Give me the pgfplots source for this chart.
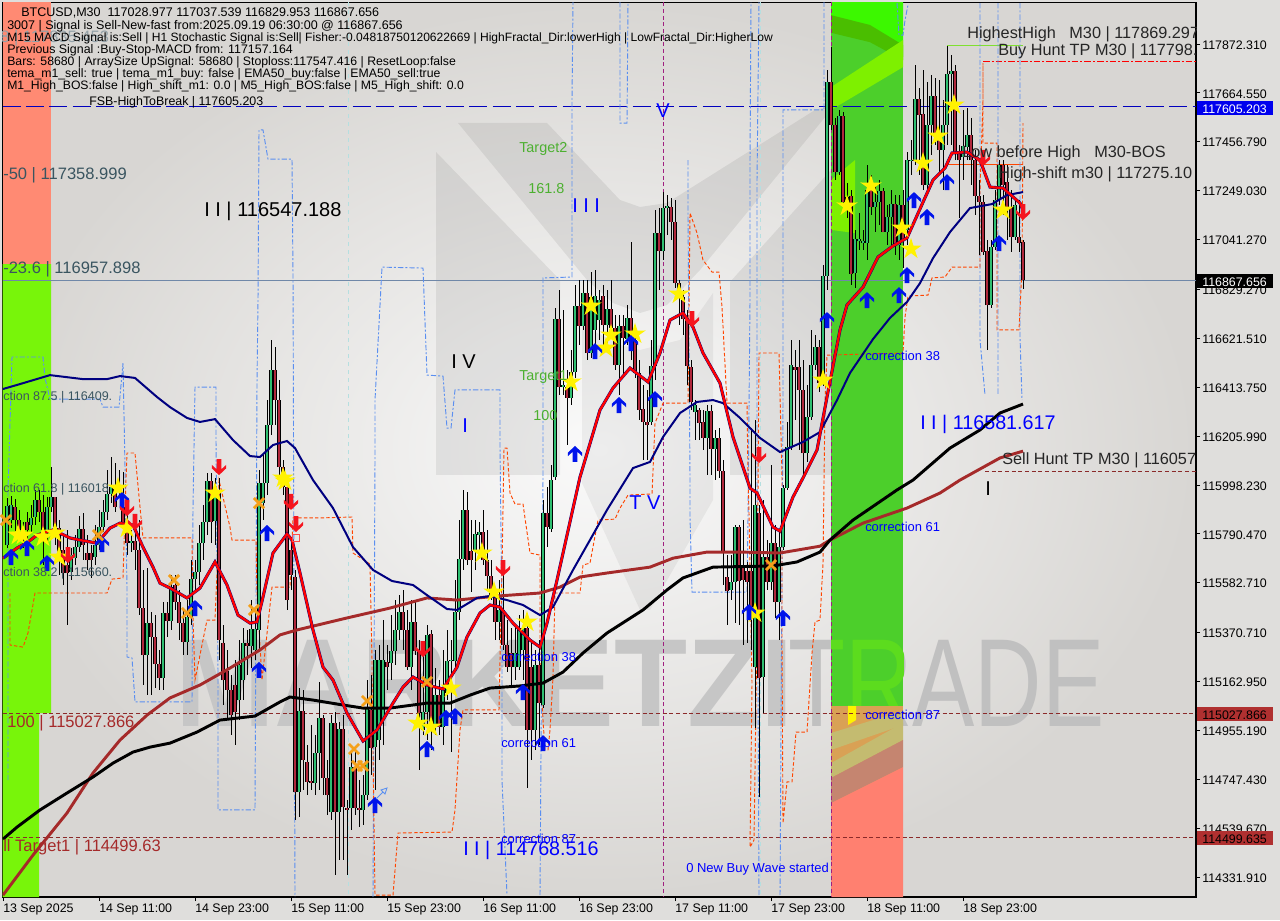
\documentclass[border=0pt]{standalone}
\usepackage{fontspec}
\setmainfont{Liberation Sans}
\usepackage{pgfplots}
\usepackage{pgfplotstable}
\pgfplotsset{compat=1.18}
\definecolor{bullc}{HTML}{2FBF71}
\definecolor{bearc}{HTML}{B0283C}
\definecolor{navyl}{HTML}{000080}
\definecolor{brownl}{HTML}{A52A2A}
\definecolor{orl}{HTML}{FF4500}
\definecolor{bll}{HTML}{5B8FF0}
\definecolor{fib}{HTML}{3A5560}
\definecolor{grn}{HTML}{4CB030}
\pgfdeclareplotmark{ystar}{%
 \pgfpathmoveto{\pgfpointpolar{90}{8.4pt}}%
 \pgfpathlineto{\pgfpointpolar{126}{3.1pt}}\pgfpathlineto{\pgfpointpolar{162}{8.4pt}}%
 \pgfpathlineto{\pgfpointpolar{198}{3.1pt}}\pgfpathlineto{\pgfpointpolar{234}{8.4pt}}%
 \pgfpathlineto{\pgfpointpolar{270}{3.1pt}}\pgfpathlineto{\pgfpointpolar{306}{8.4pt}}%
 \pgfpathlineto{\pgfpointpolar{342}{3.1pt}}\pgfpathlineto{\pgfpointpolar{18}{8.4pt}}%
 \pgfpathlineto{\pgfpointpolar{54}{3.1pt}}\pgfpathclose\pgfusepathqfill}
\pgfdeclareplotmark{uparr}{%
 \pgfpathmoveto{\pgfqpoint{0pt}{6pt}}\pgfpathlineto{\pgfqpoint{5.4pt}{.9pt}}%
 \pgfpathlineto{\pgfqpoint{5.4pt}{-1.7pt}}\pgfpathlineto{\pgfqpoint{1.7pt}{1.7pt}}%
 \pgfpathlineto{\pgfqpoint{1.7pt}{-6pt}}\pgfpathlineto{\pgfqpoint{-1.7pt}{-6pt}}%
 \pgfpathlineto{\pgfqpoint{-1.7pt}{1.7pt}}\pgfpathlineto{\pgfqpoint{-5.4pt}{-1.7pt}}%
 \pgfpathlineto{\pgfqpoint{-5.4pt}{.9pt}}\pgfpathclose\pgfusepathqfill}
\pgfdeclareplotmark{dnarr}{%
 \pgfpathmoveto{\pgfqpoint{0pt}{-6pt}}\pgfpathlineto{\pgfqpoint{5.4pt}{-.9pt}}%
 \pgfpathlineto{\pgfqpoint{5.4pt}{1.7pt}}\pgfpathlineto{\pgfqpoint{1.7pt}{-1.7pt}}%
 \pgfpathlineto{\pgfqpoint{1.7pt}{6pt}}\pgfpathlineto{\pgfqpoint{-1.7pt}{6pt}}%
 \pgfpathlineto{\pgfqpoint{-1.7pt}{-1.7pt}}\pgfpathlineto{\pgfqpoint{-5.4pt}{1.7pt}}%
 \pgfpathlineto{\pgfqpoint{-5.4pt}{-.9pt}}\pgfpathclose\pgfusepathqfill}
\newcommand\T[5]{\node[anchor=west,inner sep=0pt,yshift=-.7pt,text=#4,font=\fontsize{#3}{#3}\selectfont] at (#1,#2) {#5};}
\pgfplotstableread{
i t b h l
1 115908 115743 115943 115730
2 115913 115849 115951 115815
7 115858 115828 115913 115798
8 115934 115862 115977 115828
11 115904 115807 115947 115756
12 115947 115904 116074 115883
17 115700 115628 115730 115594
18 115734 115687 115785 115658
19 115811 115734 115866 115713
23 115743 115692 115828 115658
24 115819 115743 115892 115722
25 115883 115819 115934 115798
26 115960 115883 116062 115849
27 115989 115960 116117 115921
29 115998 115977 116062 115947
32 115760 115751 115807 115713
36 115411 115275 115645 115105
40 115454 115178 115501 115127
42 115564 115420 115615 115382
46 115437 115330 115509 115275
47 115598 115437 115679 115403
48 115628 115598 115679 115543
49 115751 115628 115828 115573
50 115841 115751 115913 115679
51 116015 115841 116049 115785
53 115977 115845 116028 115743
59 115233 115084 115339 114999
60 115326 115169 115390 115084
62 115386 115314 115509 115220
63 115386 115297 115467 115254
64 116006 115382 116062 115297
65 116006 115921 116125 115849
66 116253 116006 116359 115955
67 116487 116253 116614 116210
74 115037 114693 115135 114587
78 114859 114731 114935 114680
79 115008 114859 115161 114702
82 114986 114608 115020 114574
84 114961 114608 114991 114404
87 114799 114625 114872 114532
90 114680 114617 114765 114553
91 115054 114680 115169 114659
93 115254 114884 115297 114702
94 115254 114914 115318 114829
95 115254 114999 115424 114893
97 115292 115241 115445 115169
98 115382 115292 115509 115233
99 115458 115382 115530 115339
102 115416 115224 115509 115127
105 115033 114957 115297 114935
106 115360 115033 115403 114914
108 115105 114969 115220 114935
110 115127 114969 115297 114893
111 115250 115114 115382 115084
112 115254 115250 115339 114863
113 115458 115250 115594 115212
114 115683 115458 115849 115424
115 115892 115683 115977 115637
118 115790 115717 115849 115637
119 115798 115785 115841 115722
124 115467 115416 115594 115339
128 115284 115224 115403 115169
129 115390 115224 115445 115212
130 115390 115297 115467 115169
133 115233 114957 115297 114872
135 115879 115063 115934 115050
137 116019 115811 116083 115798
138 116703 116032 116750 116019
140 116423 116414 116742 116380
142 116478 116368 116572 116338
143 116759 116478 116848 116453
145 116814 116674 116869 116657
147 116797 116559 116903 116538
148 116801 116657 116912 116593
149 116784 116699 116827 116614
151 116746 116678 116827 116572
154 116674 116508 116721 116380
156 116708 116618 116763 116593
162 116504 116266 116614 116253
163 117069 116504 117167 116444
165 117175 116992 117243 116954
166 117184 117175 117230 117060
173 116338 116308 116359 116189
176 116312 116197 116338 116040
178 116197 116151 116232 116019
182 115586 115552 115700 115509
183 115819 115586 115828 115411
188 115913 115224 116274 114965
190 115692 115182 115934 115029
192 115751 115586 116083 115552
194 115734 115500 115807 115339
195 115985 115734 115998 115722
196 116159 115985 116266 115977
197 116508 116159 116614 116147
201 116287 116134 116423 116096
202 116508 116287 116657 116274
203 116584 116508 116635 116487
205 116886 116431 116933 116419
206 117711 116886 117761 116827
209 117566 117328 117592 117315
213 117043 116899 117082 116835
214 117043 117035 117154 116997
215 117035 117026 117082 116997
216 117252 117026 117358 116954
218 117200 117179 117273 117073
219 117247 117200 117294 117103
221 117137 117073 117188 117018
222 117192 117137 117252 117018
224 117188 117018 117230 116954
226 117379 117082 117413 117018
227 117379 117375 117464 117315
228 117638 117375 117783 117358
231 117528 117273 117711 117252
232 117651 117528 117740 117400
235 117528 117422 117634 117252
236 117745 117528 117864 117443
237 117757 117745 117825 117443
240 117439 117392 117592 117294
241 117485 117434 117600 117379
247 117009 116763 117039 116750
248 117209 117009 117252 116997
249 117358 117209 117379 117188
253 117188 117052 117209 117039
}\bull
\pgfplotstableread{
i t b h l
3 115904 115849 115938 115802
4 115849 115807 115892 115764
5 115807 115781 115841 115730
6 115841 115807 115883 115764
9 115934 115883 115977 115841
10 115883 115807 115955 115658
13 115947 115819 115947 115743
14 115815 115713 115849 115615
15 115722 115624 115785 115573
16 115658 115624 115807 115403
20 115811 115743 115879 115679
21 115709 115679 115785 115637
22 115709 115679 115743 115602
28 115989 115904 116091 115883
30 115904 115836 116053 115807
31 115828 115751 115870 115700
33 115760 115722 115815 115637
34 115722 115475 115849 115445
35 115475 115275 115637 115148
37 115411 115352 115458 115105
38 115352 115237 115445 115135
39 115237 115178 115297 115127
41 115454 115420 115501 115352
43 115573 115501 115615 115467
44 115501 115411 115552 115339
45 115411 115330 115467 115275
52 116015 115841 116049 115751
54 115977 115339 116028 115254
55 115326 115169 115403 115063
56 115207 115127 115297 114999
57 115127 115020 115190 114935
58 115148 115033 115254 114893
61 115326 115314 115382 115190
68 116487 116359 116584 116253
69 116359 116074 116444 116028
70 116074 115989 116104 115955
71 115989 115509 116019 115467
72 115722 115615 115764 115552
73 115607 114693 115637 114574
75 115037 114829 115127 114702
76 114821 114735 114893 114680
77 114740 114731 114978 114702
80 115008 114753 115020 114680
81 114753 114680 114829 114595
83 114986 114608 115033 114340
85 114961 114629 115020 114404
86 114625 114617 114659 114340
88 114799 114625 114872 114595
89 114625 114617 114744 114544
92 115042 114880 115190 114765
96 115246 115224 115318 115127
100 115458 115382 115552 115297
101 115382 115224 115467 115212
103 115416 115292 115509 115275
104 115292 115029 115339 114787
107 115364 114969 115382 114872
109 115105 114969 115169 114935
116 115892 115679 115968 115658
117 115717 115679 115849 115543
120 115798 115679 115892 115658
121 115679 115611 115807 115552
122 115611 115522 115679 115509
123 115522 115416 115552 115339
125 115467 115318 115637 115297
126 115318 115224 115424 115203
127 115284 115224 115390 115148
131 115390 114957 115403 114710
132 115224 114957 115339 114829
134 115233 115071 115339 114893
136 115879 115819 115989 115734
139 116703 116414 116827 116380
141 116414 116368 116487 116168
144 116759 116674 116869 116593
146 116814 116559 116869 116529
150 116801 116678 116848 116572
152 116746 116665 116869 116635
153 116665 116508 116721 116487
155 116674 116623 116721 116465
157 116708 116614 117030 116529
158 116614 116474 116678 116453
159 116474 116317 116529 116274
160 116321 116266 116423 116104
161 116266 116253 116402 116104
164 117069 116992 117175 116827
167 117179 117116 117217 117039
168 117116 116856 117209 116835
169 116856 116797 116869 116678
170 116797 116703 116827 116635
171 116699 116504 116742 116423
172 116499 116351 116529 116317
174 116317 116261 116325 116189
175 116266 116197 116317 116147
177 116312 116151 116338 116040
179 116197 116057 116240 116028
180 116057 115709 116104 115573
181 115607 115547 115700 115403
184 115819 115590 115828 115403
185 115645 115594 115849 115318
186 115632 115586 115670 115326
187 115632 115479 116240 115297
189 115879 115178 115913 114672
191 115692 115586 115764 115552
193 115751 115500 115828 115432
198 116499 116487 116572 116274
199 116499 116402 116614 116147
200 116402 116134 116529 116040
204 116584 116431 116614 116393
207 117711 117528 117859 117507
208 117528 117328 117558 117294
210 117566 117200 117583 117175
211 117222 117179 117281 117132
212 117226 116895 117252 116848
217 117281 117179 117315 117145
220 117247 117073 117260 117073
223 117192 117018 117230 116975
225 117188 117039 117252 116920
229 117638 117570 117685 117315
230 117574 117273 117761 117252
233 117651 117485 117728 117443
234 117485 117422 117719 117315
238 117757 117409 117783 117379
239 117409 117379 117443 117132
242 117485 117379 117558 117273
243 117379 117226 117422 117145
244 117226 117200 117294 116975
245 117200 116988 117230 116975
246 116992 116763 117039 116572
250 117358 117273 117379 117145
251 117286 117179 117358 117039
252 117179 117052 117252 116988
254 117052 117026 117209 116988
255 117028.977 116867.656 117037.539 116829.953
}\bear
\pgfplotstableread{
x y
0 115687
3.5 115730
6.25 115756
8.5 115785
12.5 115807
16.75 115773
19.25 115764
23.5 115751
26.75 115815
29.25 115836
32.5 115828
35 115734
37.5 115649
39.25 115581
41.75 115560
46 115518
49.25 115560
53 115671
56 115573
58.75 115445
61.75 115411
63.5 115416
65 115522
67.5 115709
71 115790
72.25 115764
74.25 115624
77.5 115382
80 115224
82.5 115169
86 115029
90 114910
93.5 114957
97.5 115071
100 115139
102.5 115182
106 115148
110 115131
113.5 115224
116 115352
119.25 115454
121.75 115488
124.25 115479
127.5 115411
131.75 115339
134.25 115309
136 115411
138.5 115594
144.25 116032
149.25 116317
152.5 116410
156.75 116495
161.25 116436
164.25 116559
166.75 116699
170 116729
172.5 116669
175 116559
179.25 116431
182.5 116202
186.75 115985
188.5 115964
192.5 115819
194.25 115802
197.5 115947
200 116028
203.5 116147
206 116372
209.25 116657
211 116763
215 116839
218.75 116967
222.5 117014
226 117048
230 117200
232.5 117294
235.5 117345
237.25 117409
241 117413
244.25 117379
246.75 117264
250 117260
254.25 117196
255 117167
}\redl
\begin{document}
\begin{tikzpicture}
\useasboundingbox (0,0) rectangle (960pt,690pt);
\fill[fill={rgb,255:red,223;green,222;blue,220}] (0,0) rectangle (960pt,690pt);
\begin{scope}[x=.75pt,y=-.75pt,shift={(0pt,690pt)}]
 \shade[inner color={rgb,255:red,250;green,250;blue,250},outer color={rgb,255:red,216;green,214;blue,211}] (2.5,2.5) rectangle (1196,897);
 % logo
 \fill[black,opacity=.07] (436,152)--(560,280)--(560,475)--(436,475)--cycle;
 \fill[black,opacity=.07] (458,123)--(547,123)--(620,200)--(640,207)--(667,203)--(815,110)--(835,105)--(700,270)--(667,305)--(640,313)--(613,303)--(587,280)--cycle;
 \fill[black,opacity=.07] (730,282)--(831,170)--(831,475)--(730,475)--cycle;
 \fill[black,opacity=.05] (582,325)--(620,345)--(640,350)--(680,340)--(713,293)--(713,500)--(650,610)--(640,610)--(582,483)--cycle;
 % watermark
 \node[anchor=base west,inner sep=0pt,text={rgb,255:red,198;green,198;blue,198},font=\fontsize{94}{94}\selectfont\bfseries,xscale=.955] at (175,727) {MARKETZI};
 \node[anchor=base west,inner sep=0pt,text={rgb,255:red,192;green,192;blue,192},font=\fontsize{94}{94}\selectfont,xscale=.745] at (788,727) {TRADE};
\end{scope}
\begin{axis}[
 at={(1.875pt,17.25pt)},anchor=south west,scale only axis,
 width=895.125pt,height=670.875pt,
 xmin=-0.125,xmax=298.25,ymin=114247.06,ymax=118048.7,
 axis line style={black,line width=.8pt},
 tick style={black,line width=.6pt},tick align=outside,major tick length=3pt,
 xtick={0,24,48,72,96,120,144,168,192,216,240},
 xticklabels={13 Sep 2025,14 Sep 11:00,14 Sep 23:00,15 Sep 11:00,15 Sep 23:00,16 Sep 11:00,16 Sep 23:00,17 Sep 11:00,17 Sep 23:00,18 Sep 11:00,18 Sep 23:00},
 ytick={117872.31,117664.55,117456.79,117249.03,117041.27,116829.27,116621.51,116413.75,116205.99,115998.23,115790.47,115582.71,115370.71,115162.95,114955.19,114747.43,114539.67,114331.91},
 yticklabels={117872.310,117664.550,117456.790,117249.030,117041.270,116829.270,116621.510,116413.750,116205.990,115998.230,115790.470,115582.710,115370.710,115162.950,114955.190,114747.430,114539.670,114331.910},
 xtick pos=lower,ytick pos=right,
 x tick label style={anchor=north west,inner sep=0pt,yshift=-1.8pt,font=\fontsize{9.3}{11}\selectfont},
 y tick label style={anchor=west,inner sep=0pt,xshift=1.5pt,yshift=-.7pt,font=\fontsize{9.3}{11}\selectfont},
 unbounded coords=jump,clip=true]
% zones
\addplot[fill={rgb,255:red,255;green,138;blue,115},draw=none,forget plot] coordinates {(-0.125,118049)(12,118049)(12,116937)(-0.125,116937)} --cycle;
\addplot[fill={rgb,255:red,120;green,245;blue,10},draw=none,forget plot] coordinates {(-0.125,116937)(12,116937)(12,115029)(9,115029)(9,114247)(-0.125,114247)} --cycle;
\addplot[fill={rgb,255:red,76;green,207;blue,43},draw=none,forget plot] coordinates {(207,118051)(225,118051)(225,115059)(207,115059)} --cycle;
\addplot[fill={rgb,255:red,60;green,248;blue,0},draw=none,forget plot] coordinates {(207,118051)(225,118051)(225,117817)(216.75,117900)(207,117950)} --cycle;
\addplot[fill={rgb,255:red,74;green,190;blue,0},draw=none,forget plot] coordinates {(207,117995)(216.75,117953)(225,117868)(225,117804)(216.75,117880)(207,117920)} --cycle;
\addplot[fill={rgb,255:red,126;green,240;blue,0},draw=none,forget plot] coordinates {(207,117689)(225,117889)(225,117774)(207,117592)} --cycle;
\addplot[fill={rgb,255:red,126;green,240;blue,0},draw=none,forget plot] coordinates {(207,117294)(213,117379)(213,117069)(207,117082)} --cycle;
\addplot[fill={rgb,255:red,217;green,161;blue,85},draw=none,forget plot] coordinates {(207,115059)(225,115059)(225,114247)(207,114247)} --cycle;
\addplot[fill={rgb,255:red,196;green,187;blue,112},draw=none,forget plot] coordinates {(207,114944)(225,115038)(225,114978)(207,114872)} --cycle;
\addplot[fill={rgb,255:red,196;green,187;blue,112},draw=none,forget plot] coordinates {(207,114816)(225,114987)(225,114914)(207,114753)} --cycle;
\addplot[fill={rgb,255:red,197;green,133;blue,112},draw=none,forget plot] coordinates {(207,114753)(225,114914)(225,114799)(207,114646)} --cycle;
\addplot[fill={rgb,255:red,255;green,128;blue,112},draw=none,forget plot] coordinates {(207,114646)(225,114799)(225,114247)(207,114247)} --cycle;
\addplot[fill=yellow,draw=none,forget plot] coordinates {(211.25,115059)(213.25,115059)(213.25,114999)(211.25,114978)} --cycle;
% verticals and levels
\addplot[draw={rgb,255:red,181;green,223;blue,224},dashed,line width=.7pt,forget plot] coordinates {(86.25,118049)(86.25,114247)};
\addplot[draw={rgb,255:red,181;green,223;blue,224},dashed,line width=.7pt,forget plot] coordinates {(189.25,118049)(189.25,114247)};
\addplot[draw={rgb,255:red,160;green,32;blue,128},densely dashed,line width=.7pt,forget plot] coordinates {(165,118049)(165,114247)};
\addplot[draw={rgb,255:red,160;green,32;blue,128},densely dashed,line width=.7pt,forget plot] coordinates {(207,118049)(207,114247)};
\addplot[draw={rgb,255:red,0;green,0;blue,190},dash pattern=on 13.5pt off 4pt,line width=.7pt,forget plot] coordinates {(-0.125,117605.203)(298.25,117605.203)};
\addplot[draw={rgb,255:red,112;green,136;blue,168},line width=.8pt,forget plot] coordinates {(-0.125,116867.656)(298.25,116867.656)};
\addplot[draw={rgb,255:red,139;green,42;blue,42},dash pattern=on 3pt off 2pt,line width=.7pt,forget plot] coordinates {(-0.125,115027.866)(298.25,115027.866)};
\addplot[draw={rgb,255:red,139;green,42;blue,42},dash pattern=on 3pt off 2pt,line width=.7pt,forget plot] coordinates {(-0.125,114499.635)(298.25,114499.635)};
\addplot[draw=red,dash pattern=on 5pt off 1.5pt on 1.5pt off 1.5pt,line width=.9pt,forget plot] coordinates {(245,117798)(298.25,117798)};
\addplot[draw={rgb,255:red,139;green,42;blue,42},dash pattern=on 3pt off 2pt,line width=.7pt,forget plot] coordinates {(245.5,116057)(298.25,116057)};
\addplot[draw=orl,line width=.7pt,forget plot] coordinates {(236,117362)(255,117362)};
\addplot[draw={rgb,255:red,128;green,224;blue,48},line width=.7pt,forget plot] coordinates {(236,117868)(255,117868)};
% light-blue dash-dot bands
\addplot[draw=bll,dash pattern=on 4pt off 1.5pt on 1.5pt off 1.5pt,line width=.7pt,forget plot] coordinates {
(1.25,114744)(1.25,115977)(2.25,116542)(10,116542)(10.5,116453)(11.75,116363)(24.25,116363)(25,116329)(29,116329)(30,116516)(30.5,116074)(31,115564)(31,115267)(32.25,115263)(33,115076)(47.25,115076)(47.5,115904)(48,116414)(53.25,116414)(53.25,116189)(53.75,115199)(53.75,114617)(63,114617)(63.5,116431)(63.75,116784)(64,117507)(65,117507)(66.25,117383)(72.25,117383)(72.5,116890)(73,114247)
(73,nan)
(92.5,114247)(93,116117)(93,116359)(94.75,116924)(105,116920)(106,116465)(110,116461)(111,116240)(112,116240)(113,116402)(124.25,116402)(124.25,116159)(124.75,115454)(124.75,114744)(126,114255)
(126,nan)
(134.25,114255)(134.75,115467)(135,116032)(135,116878)(142.25,116882)(142.25,117634)(142.5,118051)
(142.5,nan)
(154.25,118051)(154.25,117536)(156,117536)(156.25,118051)
(156.25,nan)
(171.25,117379)(171.25,117137)(171.75,116032)(171.75,115862)(172.25,115543)(186,115543)(186.25,115862)(186.75,116784)(186.75,117379)(187,118051)
(187,nan)
(189,114255)(188.5,116019)(188.5,117294)(189,118051)
(189,nan)
(194.25,114255)(195,116359)(195,117592)(205.25,117592)(205.25,118051)
(205.25,nan)
(223.5,118046)(224,117910)(225,117910)(225.5,117974)(226.25,118038)
(226.25,nan)
(244.25,118046)(244.25,116614)(245.5,116380)
(245.5,nan)
(248.75,118046)(248.75,116380)
(248.75,nan)
(254.25,118046)(254.25,116627)(254.75,116359)};
% orange stepped line
\addplot[draw=orl,dash pattern=on 2.6pt off 1.6pt,line width=.7pt,forget plot] coordinates {
(1.75,115539)(1.75,115318)(5,115309)(6.25,115369)(8,115539)(26,115539)(27.25,115598)(30,115603)(30.75,116019)(31,116134)(33,116134)(34.25,115904)(35,115773)(47.25,115773)(47.5,115437)(48,115169)(51,115424)(53,115424)(53.5,115624)(54,116019)(56.75,115819)(57.25,115764)(63.25,115764)(63.5,115539)(64.75,115169)(67.25,115564)(71.75,115564)(72.5,115858)(79.25,115858)(87.25,115862)(87.5,115709)(91.75,115662)(92.25,115254)(92.25,115169)(93,114255)(97.5,114255)(98.75,114519)(112.25,114523)(113,114617)(114.25,114957)(115,115042)(124,115042)(124.25,115254)(124.75,115637)(125.25,116155)(126,116155)(126.75,115964)(128,115917)(130,115917)(131.75,115709)(134.25,115700)(134.25,115254)(135,114999)(135.5,114872)(136.25,114872)(136.75,114957)(137.5,115182)(138,115539)(144.25,115539)(145,115658)(146.75,115666)(148.75,115849)(153,115853)(154.25,115900)(156.25,115955)(162.25,115960)(163,116261)(165,116346)(171.25,116346)(171.75,117154)(173.5,117069)(175,116954)(177.25,116903)(179,116903)(179.75,116754)(181,116346)(186,116346)(186.25,116032)(186.5,115879)(187.25,115156)(186.75,114459)(187.75,114489)(188.5,115382)(189,116559)(194,116559)(194.75,116032)(194.75,115309)(195,114561)(196,114736)(197.25,114736)(198.25,114948)(201,114948)(202.25,115284)(203,115416)(204.25,115424)(205,115666)(205.5,116359)(206,116550)(225,116559)(225.5,116712)(226.25,116801)(231.25,116805)(232.25,116878)(235.5,116882)(237.25,116924)(244.25,116924)(244.25,117252)(245,117634)(245,117791)(245,117451)(248.5,117451)(248.5,116657)(254,116657)(254.75,116924)(255,117536)};
% candles: wicks then bodies
\addplot[draw=none,no markers,forget plot,error bars/.cd,y dir=both,y explicit,error mark=none,error bar style={draw=black,solid,line width=.72pt}] table[x=i,y=b,y error plus expr=\thisrow{h}-\thisrow{b},y error minus expr=\thisrow{b}-\thisrow{l}] {\bull};
\addplot[draw=none,no markers,forget plot,error bars/.cd,y dir=both,y explicit,error mark=none,error bar style={draw=black,solid,line width=.72pt}] table[x=i,y=b,y error plus expr=\thisrow{h}-\thisrow{b},y error minus expr=\thisrow{b}-\thisrow{l}] {\bear};
\addplot[draw=none,no markers,forget plot,error bars/.cd,y dir=plus,y explicit,error mark=none,error bar style={draw=black,solid,line width=2.4pt}] table[x=i,y=b,y error plus expr=\thisrow{t}-\thisrow{b}] {\bull};
\addplot[draw=none,no markers,forget plot,error bars/.cd,y dir=plus,y explicit,error mark=none,error bar style={draw=black,solid,line width=2.4pt}] table[x=i,y=b,y error plus expr=\thisrow{t}-\thisrow{b}] {\bear};
\addplot[draw=none,no markers,forget plot,error bars/.cd,y dir=plus,y explicit,error mark=none,error bar style={draw=bullc,solid,line width=1.1pt}] table[x=i,y=b,y error plus expr=\thisrow{t}-\thisrow{b}] {\bull};
\addplot[draw=none,no markers,forget plot,error bars/.cd,y dir=plus,y explicit,error mark=none,error bar style={draw=bearc,solid,line width=1.1pt}] table[x=i,y=b,y error plus expr=\thisrow{t}-\thisrow{b}] {\bear};
% moving averages
\addplot[draw=brownl,line width=2.2pt,forget plot] coordinates {(0,114255)(7.5,114425)(16,114604)(22.5,114774)(29.25,114914)(36,115020)(41.75,115093)(49.25,115148)(56.75,115220)(64.25,115297)(69.25,115361)(73.5,115382)(86,115433)(96.75,115475)(106,115518)(113.5,115509)(123.5,115526)(134.25,115539)(139.25,115564)(144.25,115607)(151,115624)(161.75,115649)(167.5,115687)(176,115713)(184.25,115713)(194.25,115709)(204.25,115738)(206.75,115764)(215,115836)(226,115900)(234.25,115964)(239.25,116019)(249.25,116113)(255,116142)};
\addplot[draw=black,line width=2.2pt,forget plot] coordinates {(0,114493)(3.5,114544)(9.25,114617)(16,114689)(22.5,114757)(27.5,114816)(32.5,114863)(36.75,114884)(41.75,114901)(48.5,114948)(54.25,114999)(63,115016)(69.25,115076)(71.75,115097)(77.5,115084)(85,115063)(90,115050)(96.75,115050)(106,115071)(111.75,115071)(116.75,115105)(121.75,115135)(129.25,115144)(135,115156)(140,115203)(145,115284)(151,115369)(160,115467)(166,115552)(170,115603)(177.5,115649)(192.5,115654)(198.5,115671)(204.25,115713)(206.75,115764)(212.5,115849)(223.5,115977)(227.5,116019)(236.75,116155)(244.25,116232)(249.25,116304)(255,116342)};
\addplot[draw=navyl,line width=1.5pt,forget plot] coordinates {(0,116406)(4.25,116427)(11.75,116465)(20,116448)(26,116448)(29.25,116461)(33,116453)(38.5,116372)(41.75,116329)(46,116283)(49.25,116266)(53,116278)(57.5,116189)(61.75,116121)(64.25,116117)(67.5,116168)(71,116185)(73,116155)(74.25,116117)(77.5,116019)(82.5,115900)(87.5,115734)(92.5,115637)(97.25,115590)(102.5,115573)(106,115530)(111,115471)(113.5,115467)(118.5,115518)(121.75,115526)(126,115509)(130,115488)(134.25,115445)(137.5,115479)(142.5,115637)(151,115892)(157.5,116070)(161.75,116096)(165,116202)(169.25,116304)(173.5,116351)(177.5,116359)(180,116346)(184.25,116283)(189.25,116198)(194.25,116138)(200,116181)(204.25,116223)(208.5,116359)(211.75,116474)(217.5,116618)(221.75,116708)(226,116776)(229.25,116856)(232.5,116962)(236.75,117073)(241.75,117175)(247.25,117192)(251,117230)(255,117243)};
\addplot[draw=navyl,line width=2.3pt,forget plot] table[x=x,y=y] {\redl};
\addplot[draw=red,line width=1.75pt,forget plot] table[x=x,y=y] {\redl};
% signal marks
\addplot[only marks,mark=ystar,color=yellow,forget plot] coordinates {(3.75,115785)(5,115785)(10,115777)(13,115794)(14,115692)(28.75,115985)(31,115815)(53,115964)(70,116028)(70.5,116015)(103.75,114986)(107,114969)(112,115135)(119.75,115709)(122.75,115543)(131,115416)(142,116436)(147,116759)(150.75,116580)(152,116635)(158,116640)(169,116810)(188,115454)(205,116444)(211,117184)(217,117269)(224.75,117090)(227,117001)(230,117366)(233.75,117481)(237.75,117613)(250,117167)};
\addplot[only marks,mark=uparr,color={rgb,255:red,0;green,20;blue,235},forget plot] coordinates {(2,115692)(6,115730)(11,115666)(24.75,115747)(29.75,115934)(48,115475)(66,115794)(64,115212)(93,114638)(106,114876)(110.75,115008)(113,115016)(130,115118)(135,114901)(143,116130)(148,116567)(154,116338)(157,116601)(163,116363)(186.5,115458)(195,115433)(206,116699)(216,116784)(224,116805)(226,116890)(227.75,117209)(231,117137)(236,117285)(249,117026)};
\addplot[only marks,mark=dnarr,color={rgb,255:red,245;green,20;blue,30},forget plot] coordinates {(16.25,115700)(31,115900)(33,115841)(54,116074)(72,115926)(73.25,115832)(105,115301)(125,115645)(172.25,116703)(189,116125)(245,117388)(255,117158)};
\addplot[only marks,mark=x,mark size=5.4pt,mark options={line width=2.1pt},color={rgb,255:red,245;green,160;blue,25},forget plot] coordinates {(0.75,115849)(23.75,115785)(42.75,115594)(46,115454)(64,115921)(62.75,115467)(91,115080)(87.75,114876)(88.5,114804)(90,114804)(106,115161)(192,115658)};
\end{axis}
\begin{scope}[x=.75pt,y=-.75pt,shift={(0pt,690pt)}]
 \begin{scope}
 \clip (831,637) rectangle (903,706);
 \node[anchor=base west,inner sep=0pt,text={rgb,255:red,92;green,220;blue,30},font=\fontsize{94}{94}\selectfont,xscale=.745] at (788,727) {TRADE};
 \end{scope}
 \draw[bll,line width=.7pt] (376,799)--(383,792) (381,790)--(387,788)--(385,794)--cycle;
 \draw[red!70,line width=.6pt] (292,534) rectangle (299,541);
 \begin{scope}
 \clip (2.5,2.5) rectangle (1196,897);
 \T{0}{37}{12.4}{fib!55}{8 | 117835.453}
 \T{21}{12}{9.4}{black}{BTCUSD,M30\ \ 117028.977 117037.539 116829.953 116867.656}
 \T{7}{25}{9.4}{black}{3007 | Signal is Sell-New-fast from:2025.09.19 06:30:00 @ 116867.656}
 \T{7}{37}{9.05}{black}{M15 MACD Signal is:Sell | H1 Stochastic Signal is:Sell| Fisher:-0.04818750120622669 | HighFractal\_Dir:lowerHigh | LowFractal\_Dir:HigherLow}
 \T{7}{49}{9.3}{black}{Previous Signal :Buy-Stop-MACD from: 117157.164}
 \T{7}{61}{9.2}{black}{Bars: 58680 | ArraySize UpSignal: 58680 | Stoploss:117547.416 | ResetLoop:false}
 \T{7}{73}{9.2}{black}{tema\_m1\_sell: true | tema\_m1\_buy: false | EMA50\_buy:false | EMA50\_sell:true}
 \T{7}{85}{9.15}{black}{M1\_High\_BOS:false | High\_shift\_m1: 0.0 | M5\_High\_BOS:false | M5\_High\_shift: 0.0}
 \T{89}{101}{9.3}{black}{FSB-HighToBreak | 117605.203}
 \T{3}{174}{12.4}{fib}{-50 | 117358.999}
 \T{3}{268}{12.4}{fib}{-23.6 | 116957.898}
 \T{3}{396}{9.4}{fib}{ction 87.5 | 116409.}
 \T{3}{488}{9.4}{fib}{ction 61.8 | 116018}
 \T{3}{572}{9.4}{fib}{ction 38.2 | 115660.}
 \T{7}{722}{12.4}{brownl}{100 | 115027.866}
 \T{3}{846}{12.4}{brownl}{ll Target1 | 114499.63}
 \T{204}{210}{15}{black}{I I | 116547.188}
 \T{451}{361}{15}{black}{I V}
 \T{462}{425}{15}{blue}{I}
 \T{572}{205}{15}{blue}{I I I}
 \T{656}{110}{15}{blue}{V}
 \T{629}{502}{15}{blue}{T V}
 \T{519}{148}{10.8}{grn}{Target2}
 \T{528}{188}{10.8}{grn}{161.8}
 \T{519}{376}{10.8}{grn}{Target1}
 \T{533}{415}{10.8}{grn}{100}
 \T{920}{424}{14.8}{blue}{I I | 116581.617}
 \T{463}{850}{14.8}{blue}{I I | 114768.516}
 \T{865}{355}{9.7}{blue}{correction 38}
 \T{865}{526}{9.7}{blue}{correction 61}
 \T{865}{714}{9.7}{blue}{correction 87}
 \T{501}{656}{9.7}{blue}{correction 38}
 \T{501}{742}{9.7}{blue}{correction 61}
 \T{501}{838}{9.7}{blue}{correction 87}
 \T{686}{868}{9.75}{blue}{0 New Buy Wave started}
 \T{967}{33}{12.2}{black!85}{HighestHigh\ \ \ M30 | 117869.297}
 \T{998}{50}{12.2}{black!85}{Buy Hunt TP M30 | 117798.3}
 \T{962}{152}{12.2}{black!85}{Low before High\ \ \ M30-BOS}
 \T{998}{173}{12.2}{black!85}{High-shift m30 | 117275.10}
 \T{1002}{459}{12.2}{black!85}{Sell Hunt TP M30 | 116057.}
 \T{985}{488}{15}{black}{I}
 \end{scope}
 \fill[fill={rgb,255:red,0;green,0;blue,238}] (1197,101) rectangle (1273,115);
 \T{1202}{108}{9.3}{white}{117605.203}
 \fill[black] (1197,274) rectangle (1273,288);
 \T{1202}{281}{9.3}{white}{116867.656}
 \fill[fill={rgb,255:red,176;green,48;blue,48}] (1197,707) rectangle (1273,721);
 \T{1202}{714}{9.3}{black}{115027.866}
 \fill[fill={rgb,255:red,176;green,48;blue,48}] (1197,831) rectangle (1273,845);
 \T{1202}{838}{9.3}{black}{114499.635}
\end{scope}
\end{tikzpicture}
\end{document}
